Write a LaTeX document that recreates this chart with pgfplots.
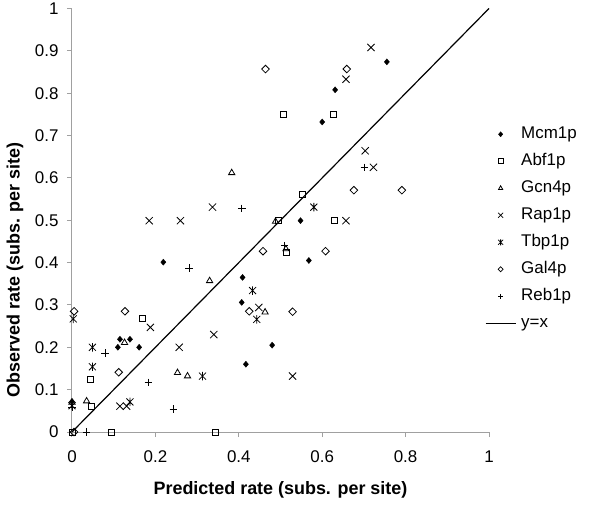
\documentclass[border=0pt]{standalone}
\usepackage{pgfplots}
\pgfplotsset{compat=1.18}
\usepackage{fontspec}
\setmainfont{Liberation Sans}
\definecolor{axisgray}{RGB}{160,160,160}
\pgfdeclareplotmark{rhomb}{%
 \pgfpathmoveto{\pgfqpoint{0pt}{\pgfplotmarksize}}%
 \pgfpathlineto{\pgfqpoint{\pgfplotmarksize}{0pt}}%
 \pgfpathlineto{\pgfqpoint{0pt}{-\pgfplotmarksize}}%
 \pgfpathlineto{\pgfqpoint{-\pgfplotmarksize}{0pt}}%
 \pgfpathclose
 \pgfusepathqstroke}
\pgfdeclareplotmark{rhomb*}{%
 \pgfpathmoveto{\pgfqpoint{0pt}{\pgfplotmarksize}}%
 \pgfpathlineto{\pgfqpoint{0.85\pgfplotmarksize}{0pt}}%
 \pgfpathlineto{\pgfqpoint{0pt}{-\pgfplotmarksize}}%
 \pgfpathlineto{\pgfqpoint{-0.85\pgfplotmarksize}{0pt}}%
 \pgfpathclose
 \pgfusepathqfillstroke}
\pgfdeclareplotmark{xstar}{%
 \pgfpathmoveto{\pgfqpoint{-\pgfplotmarksize}{-\pgfplotmarksize}}%
 \pgfpathlineto{\pgfqpoint{\pgfplotmarksize}{\pgfplotmarksize}}%
 \pgfpathmoveto{\pgfqpoint{-\pgfplotmarksize}{\pgfplotmarksize}}%
 \pgfpathlineto{\pgfqpoint{\pgfplotmarksize}{-\pgfplotmarksize}}%
 \pgfpathmoveto{\pgfqpoint{0pt}{-1.2\pgfplotmarksize}}%
 \pgfpathlineto{\pgfqpoint{0pt}{1.2\pgfplotmarksize}}%
 \pgfusepathqstroke}
\pgfdeclareplotmark{bigx}{%
 \pgfpathmoveto{\pgfqpoint{-\pgfplotmarksize}{-\pgfplotmarksize}}%
 \pgfpathlineto{\pgfqpoint{\pgfplotmarksize}{\pgfplotmarksize}}%
 \pgfpathmoveto{\pgfqpoint{-\pgfplotmarksize}{\pgfplotmarksize}}%
 \pgfpathlineto{\pgfqpoint{\pgfplotmarksize}{-\pgfplotmarksize}}%
 \pgfusepathqstroke}
\begin{document}
\begin{tikzpicture}
\useasboundingbox (-72bp,-85bp) rectangle (528bp,432bp);
\begin{axis}[
  at={(0,0)}, anchor=south west,
  scale only axis, width=417bp, height=423.5bp,
  xmin=0, xmax=1, ymin=0, ymax=1,
  clip=false,
  axis lines=left,
  axis line style={-, draw=axisgray, line width=1bp},
  tick style={draw=axisgray, line width=1bp},
  tick align=outside, major tick length=5bp,
  xtick={0,0.2,0.4,0.6,0.8,1},
  ytick={0,0.1,0.2,0.3,0.4,0.5,0.6,0.7,0.8,0.9,1},
  /pgf/number format/assume math mode=true,
  ticklabel style={font=\fontsize{17}{20}\selectfont},
  xticklabel style={yshift=-10bp},
  yticklabel style={xshift=-5bp},
  xlabel={Predicted rate (subs. per site)},
  ylabel={Observed rate (subs. per site)},
  label style={font=\bfseries\fontsize{18}{21}\selectfont},
  xlabel style={at={(axis description cs:0.5,-0.137)}, anchor=center},
  ylabel style={at={(axis description cs:-0.137,0.383)}, anchor=center},
  legend style={at={(axis description cs:0.990,0.7235)}, anchor=north west,
    draw=none, fill=none, inner sep=0pt, row sep=10bp, column sep=2bp,
    font=\fontsize{17}{20}\selectfont,
    nodes={inner xsep=3bp, inner ysep=0pt, text height=13bp, text depth=4bp}},
  legend cell align=left,
  legend image code/.code={\draw[mark repeat=2,mark phase=2,#1] plot coordinates {(0bp,0bp) (15bp,0bp) (30bp,0bp)};},
  legend image post style={mark size=2.5bp},
]
\addplot[only marks, black, mark=rhomb*, mark size=3bp] coordinates {
(0.755,0.874) (0.631,0.808) (0.600,0.732) (0.219,0.401) (0.409,0.365)
(0.407,0.306) (0.115,0.219) (0.139,0.219) (0.110,0.200) (0.161,0.200)
(0.417,0.160) (0.548,0.499) (0.568,0.405) (0.480,0.205) (0,0.072)};
\addlegendentry{Mcm1p}
\addplot[only marks, black, mark=square, mark size=3bp, mark options={line width=0.8bp}] coordinates {
(0.506,0.750) (0.626,0.750) (0.552,0.562) (0.629,0.500) (0.496,0.499)
(0.513,0.425) (0.168,0.268) (0.043,0.125) (0.047,0.061) (0,0)
(0.094,0) (0.345,0)};
\addlegendentry{Abf1p}
\addplot[only marks, black, mark=triangle, mark size=3.6bp, mark options={line width=0.8bp}] coordinates {
(0.383,0.612) (0.330,0.357) (0.488,0.497) (0.513,0.432) (0.463,0.283)
(0.126,0.211) (0.253,0.140) (0.277,0.132) (0.035,0.073) (0,0.070)};
\addlegendentry{Gcn4p}
\addplot[only marks, black, mark=bigx, mark size=3.6bp, mark options={line width=0.8bp}] coordinates {
(0.717,0.908) (0.657,0.833) (0.703,0.664) (0.723,0.625) (0.337,0.531)
(0.185,0.499) (0.260,0.499) (0.657,0.499) (0.448,0.294) (0.188,0.247)
(0.340,0.230) (0.257,0.200) (0.529,0.132) (0.115,0.061) (0.131,0.061)};
\addlegendentry{Rap1p}
\addplot[only marks, black, mark=xstar, mark size=3.5bp, mark options={line width=0.8bp}] coordinates {
(0.580,0.531) (0.433,0.334) (0.443,0.266) (0.003,0.267) (0.049,0.200)
(0.049,0.154) (0.313,0.132) (0.139,0.071) (0,0.062)};
\addlegendentry{Tbp1p}
\addplot[only marks, black, mark=rhomb, mark size=3.8bp, mark options={line width=0.8bp}] coordinates {
(0.464,0.857) (0.659,0.857) (0.676,0.571) (0.791,0.571) (0.458,0.427)
(0.608,0.427) (0.425,0.285) (0.529,0.284) (0.005,0.285) (0.127,0.285)
(0.112,0.141) (0.005,0)};
\addlegendentry{Gal4p}
\addplot[only marks, black, mark=+, mark size=3.8bp, mark options={line width=0.8bp}] coordinates {
(0.701,0.625) (0.407,0.528) (0.281,0.387) (0.510,0.440) (0.079,0.186)
(0.183,0.117) (0.243,0.054) (0.035,0) (0,0.058)};
\addlegendentry{Reb1p}
\addplot[black, line width=1.2bp, mark=none] coordinates {(0,0) (1,1)};
\addlegendentry{y=x}
\end{axis}
\end{tikzpicture}
\end{document}
